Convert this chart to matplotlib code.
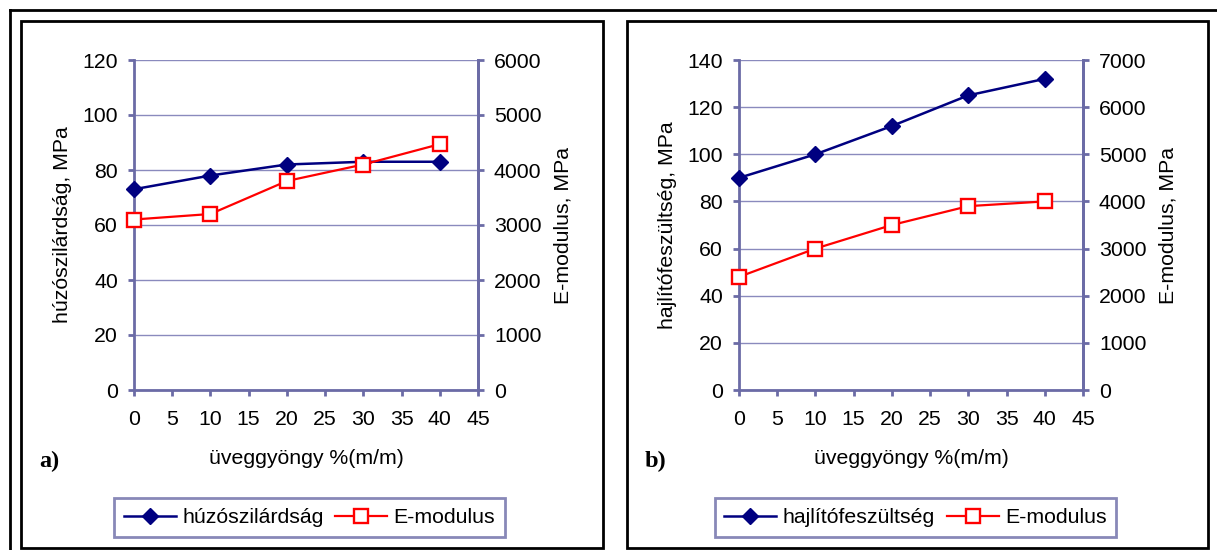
import matplotlib
matplotlib.use('Agg')
import matplotlib.pyplot as plt
from matplotlib.patches import Rectangle
from matplotlib.lines import Line2D

plt.rcParams['font.family'] = ['Liberation Sans', 'DejaVu Sans']

# data
x_pct = [0, 10, 20, 30, 40]
huzo = [73, 78, 82, 83, 83]
huzo_E = [3100, 3200, 3800, 4100, 4470]
hajlito = [90, 100, 112, 125, 132]
hajlito_E = [2400, 3000, 3500, 3900, 4000]

x_ticks = list(range(0, 50, 5))
xlabel = 'üveggyöngy %(m/m)'

panels = [
    dict(tag='a)', y=huzo, e=huzo_E, name='húzószilárdság', ymax=120, emax=6000),
    dict(tag='b)', y=hajlito, e=hajlito_E, name='hajlítófeszültség', ymax=140, emax=7000),
]

W, H = 1217, 550
fig = plt.figure(figsize=(W / 100, H / 100), dpi=100)

spine_c = '#6b6ba6'
grid_c = '#8a8abd'
blue = '#000080'
red = '#ff0000'
fs = 15.3

# outer frame (top and left)
fig.add_artist(Line2D([10 / W, 1.0], [1 - 10 / H, 1 - 10 / H], color='black', lw=2,
                      transform=fig.transFigure))
fig.add_artist(Line2D([10 / W, 10 / W], [0, 1 - 10 / H], color='black', lw=2,
                      transform=fig.transFigure))

box_x = [21, 627]
box_w = [582, 581]
ax_left = [134, 739]
leg_box = [(111, 508), (711, 1120)]

for i, p in enumerate(panels):
    # panel box
    fig.add_artist(Rectangle((box_x[i] / W, 2 / H), box_w[i] / W, (548 - 21) / H,
                             fill=False, ec='black', lw=2, transform=fig.transFigure))

    ax = fig.add_axes([ax_left[i] / W, (H - 390) / H, 344 / W, 330 / H])
    ax2 = ax.twinx()

    ax.set_xlim(0, 45)
    ax.set_ylim(0, p['ymax'])
    ax2.set_ylim(0, p['emax'])
    ax.set_xticks(x_ticks)
    ax.set_yticks(range(0, p['ymax'] + 1, 20))
    ax2.set_yticks(range(0, p['emax'] + 1, 1000))

    ax.grid(axis='y', color=grid_c, lw=1)
    ax.set_axisbelow(True)
    for a in (ax, ax2):
        a.spines['top'].set_visible(False)
        for s in ('left', 'right', 'bottom'):
            a.spines[s].set_color(spine_c)
            a.spines[s].set_linewidth(2)
        a.tick_params(colors=spine_c, labelcolor='black', labelsize=fs,
                      direction='out', length=4.5, width=2, pad=7)
    ax.tick_params(axis='x', pad=10)
    ax2.spines['left'].set_visible(False)
    ax2.spines['bottom'].set_visible(False)

    l1, = ax.plot(x_pct, p['y'], color=blue, lw=1.8, marker='D', ms=8.5,
                  mfc=blue, mec=blue, label=p['name'], clip_on=False, zorder=3)
    l2, = ax2.plot(x_pct, p['e'], color=red, lw=1.6, marker='s', ms=9.5,
                   mfc='white', mec=red, mew=1.7, label='E-modulus', clip_on=False, zorder=3)

    ax.set_xlabel(xlabel, fontsize=fs)
    ax.xaxis.set_label_coords(0.5, -0.18)
    ax.set_ylabel(p['name'] + ', MPa', fontsize=fs)
    ax.yaxis.set_label_coords(-0.18, 0.5)
    ax2.set_ylabel('E-modulus, MPa', fontsize=fs)
    ax2.yaxis.set_label_coords(1.22, 0.5)

    fig.text((box_x[i] + 18) / W, 1 - 461 / H, p['tag'], fontsize=17.5, fontweight='bold',
             family='Liberation Serif', va='center', ha='left')

    lx0, lx1 = leg_box[i]
    leg = fig.legend([l1, l2], [p['name'], 'E-modulus'], loc='center', ncol=2,
                     bbox_to_anchor=((lx0 + lx1) / 2 / W, 1 - 517.5 / H),
                     fontsize=fs, frameon=True, fancybox=False, handlelength=2.45,
                     handletextpad=0.3, columnspacing=0.55, borderpad=0.45,
                     borderaxespad=0)
    leg.get_frame().set_edgecolor(spine_c)
    leg.get_frame().set_linewidth(2)

fig.savefig('out.png', dpi=100)
